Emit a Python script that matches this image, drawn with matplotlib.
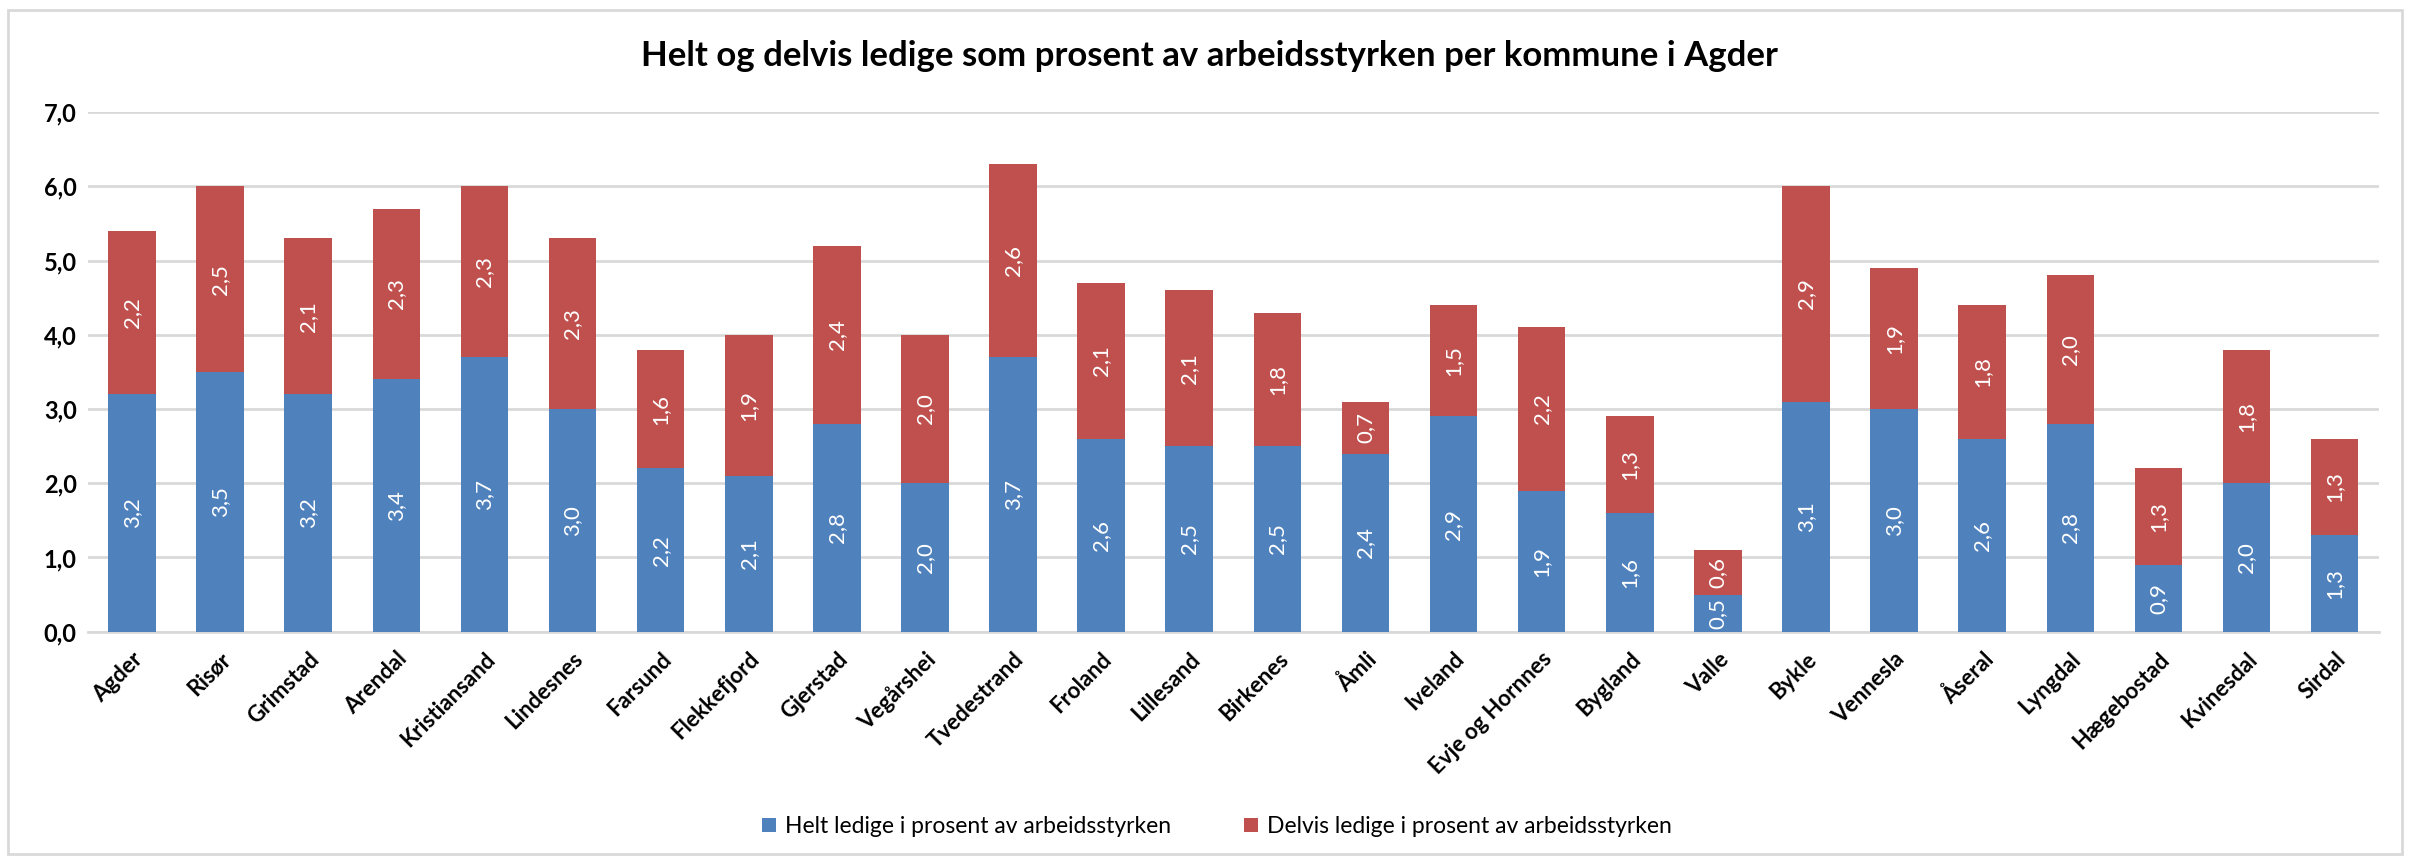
import matplotlib.pyplot as plt
import numpy as np
from matplotlib.patches import Rectangle

plt.rcParams['font.family'] = ['Lato', 'DejaVu Sans']

kommuner = ["Agder", "Risør", "Grimstad", "Arendal", "Kristiansand", "Lindesnes",
            "Farsund", "Flekkefjord", "Gjerstad", "Vegårshei", "Tvedestrand", "Froland",
            "Lillesand", "Birkenes", "Åmli", "Iveland", "Evje og Hornnes", "Bygland",
            "Valle", "Bykle", "Vennesla", "Åseral", "Lyngdal", "Hægebostad",
            "Kvinesdal", "Sirdal"]
helt = [3.2, 3.5, 3.2, 3.4, 3.7, 3.0, 2.2, 2.1, 2.8, 2.0, 3.7, 2.6, 2.5, 2.5,
        2.4, 2.9, 1.9, 1.6, 0.5, 3.1, 3.0, 2.6, 2.8, 0.9, 2.0, 1.3]
delvis = [2.2, 2.5, 2.1, 2.3, 2.3, 2.3, 1.6, 1.9, 2.4, 2.0, 2.6, 2.1, 2.1, 1.8,
          0.7, 1.5, 2.2, 1.3, 0.6, 2.9, 1.9, 1.8, 2.0, 1.3, 1.8, 1.3]
serier = ["Helt ledige i prosent av arbeidsstyrken",
          "Delvis ledige i prosent av arbeidsstyrken"]

blue = "#4F81BD"
red = "#C0504D"
grid = "#D9D9D9"

fig = plt.figure(figsize=(24.1, 8.63), dpi=100)
ax = fig.add_axes([0.0365, 0.268, 0.9505, 0.602])

x = np.arange(len(kommuner))
b1 = ax.bar(x, helt, width=0.54, color=blue, label=serier[0], zorder=3)
b2 = ax.bar(x, delvis, width=0.54, bottom=helt, color=red, label=serier[1], zorder=3)


def fmt(v):
    return f"{v:.1f}".replace(".", ",")


for i in range(len(x)):
    ax.text(x[i], helt[i] / 2, fmt(helt[i]), rotation=90, ha="center", va="center",
            color="white", fontsize=16, zorder=4)
    ax.text(x[i], helt[i] + delvis[i] / 2, fmt(delvis[i]), rotation=90, ha="center",
            va="center", color="white", fontsize=16, zorder=4)

ax.set_xlim(-0.5, len(x) - 0.5)
ax.set_ylim(0, 7)
ax.set_yticks(np.arange(0, 7.1, 1))
ax.set_yticklabels([fmt(v) for v in np.arange(0, 7.1, 1)], fontsize=17, fontweight="bold")
ax.set_xticks(x)
ax.set_xticklabels(kommuner, rotation=45, ha="right", rotation_mode="anchor",
                   fontsize=16, fontweight="bold")
ax.tick_params(length=0, pad=8)
ax.tick_params(axis="x", pad=12)
ax.grid(axis="y", color=grid, linewidth=2, zorder=0)
for s in ["top", "right", "left"]:
    ax.spines[s].set_visible(False)
ax.spines["bottom"].set_color(grid)
ax.spines["bottom"].set_linewidth(2)

fig.text(0.502, 0.935, "Helt og delvis ledige som prosent av arbeidsstyrken per kommune i Agder",
         ha="center", va="center", fontsize=25, fontweight="bold")

fig.legend(handles=[b1, b2], labels=serier, loc="center", bbox_to_anchor=(0.505, 0.042),
           ncol=2, frameon=False, fontsize=16.5, handlelength=0.6, handleheight=0.6,
           handletextpad=0.4, columnspacing=3.2)

fig.patches.append(Rectangle((0.0035, 0.01), 0.993, 0.978, transform=fig.transFigure,
                             fill=False, edgecolor=grid, linewidth=2))

fig.savefig("out.png", dpi=100)
